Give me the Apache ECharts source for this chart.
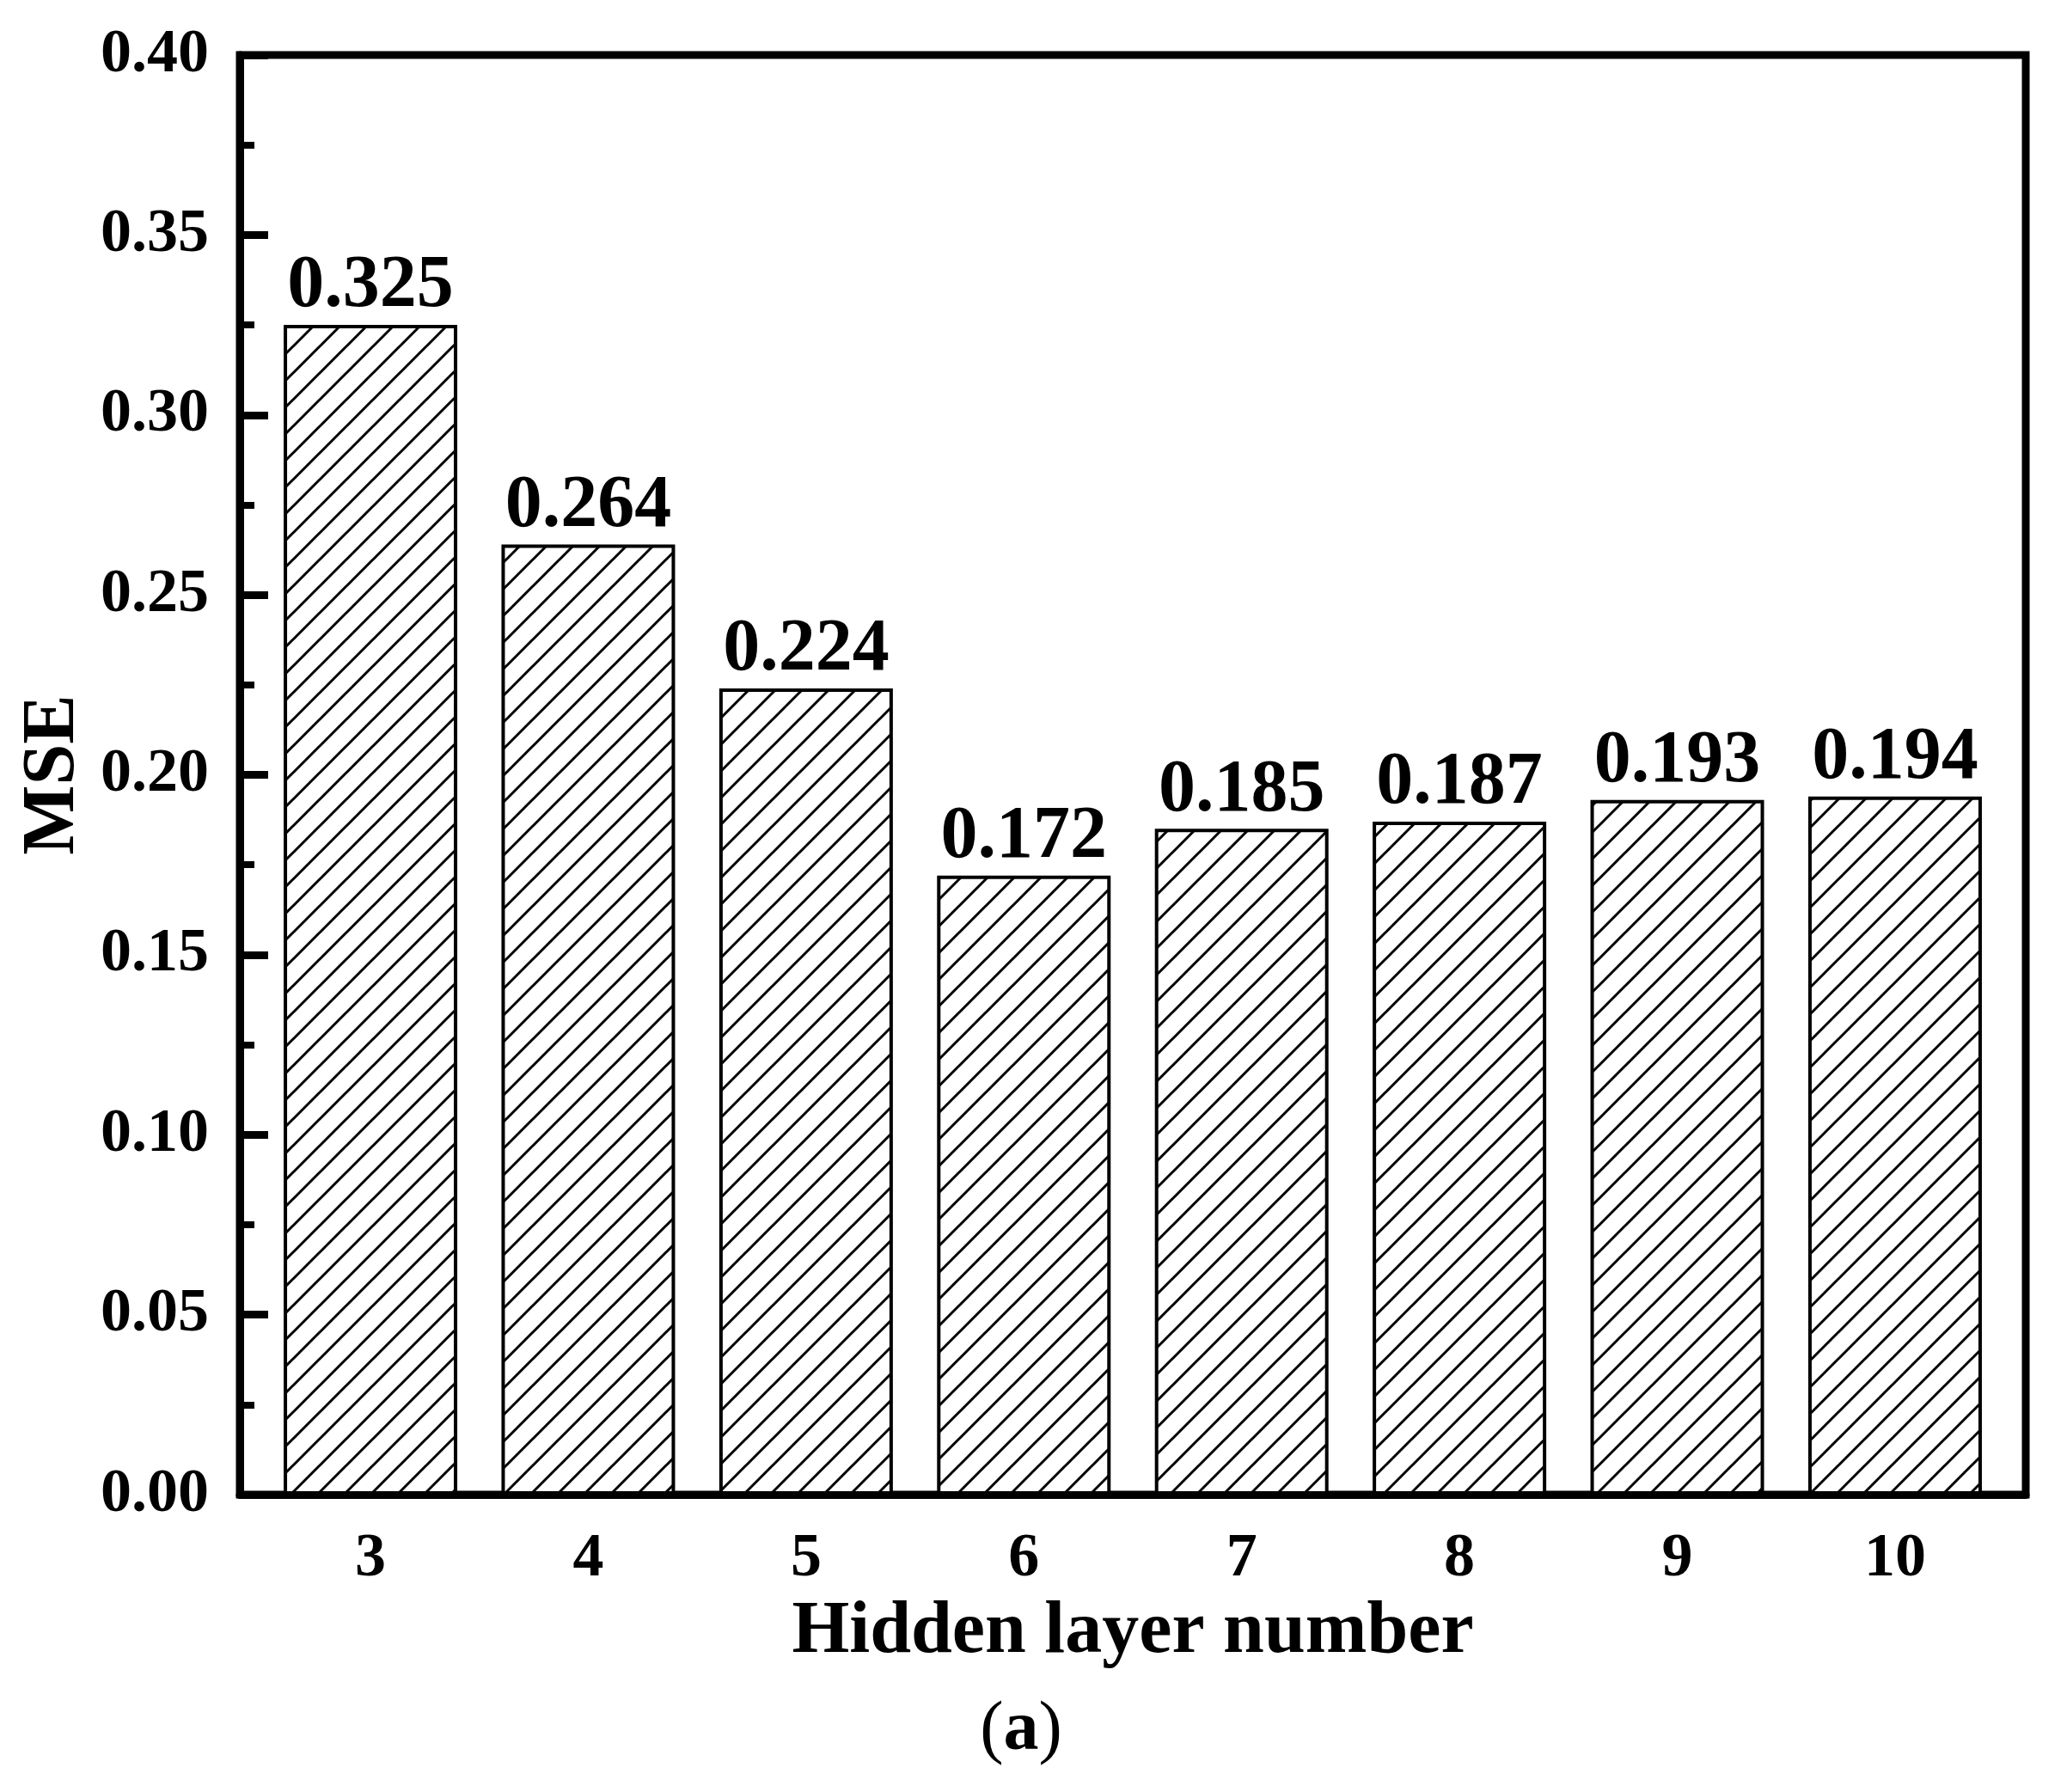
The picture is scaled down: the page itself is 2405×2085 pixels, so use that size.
<!DOCTYPE html>
<html>
<head>
<meta charset="utf-8">
<script src="https://cdn.jsdelivr.net/npm/echarts@6/dist/echarts.min.js"></script>
<style>
  html, body { margin: 0; padding: 0; background: #fff; }
  #main { width: 2405px; height: 2085px; }
</style>
</head>
<body>
<div id="main"></div>
<script>
// 数据
var hiddenLayers = [3, 4, 5, 6, 7, 8, 9, 10];
var mseValues = [0.325, 0.264, 0.224, 0.172, 0.185, 0.187, 0.193, 0.194];

var FONT = '"Times New Roman", "Liberation Serif", serif';

// 斜线填充
function hatch() {
    var S = 31;
    var c = document.createElement('canvas');
    c.width = S; c.height = S;
    var ctx = c.getContext('2d');
    ctx.fillStyle = '#fff';
    ctx.fillRect(0, 0, S, S);
    ctx.strokeStyle = '#000';
    ctx.lineWidth = 3;
    ctx.beginPath();
    for (var k = -1; k <= 1; k++) {
        ctx.moveTo(k * S - S, 2 * S);
        ctx.lineTo(k * S + 2 * S, -S);
    }
    ctx.stroke();
    return c;
}

var barData = hiddenLayers.map(function (h, i) { return [h, mseValues[i]]; });

var myChart = echarts.init(document.getElementById('main'));
myChart.setOption({
    backgroundColor: '#fff',
    animation: false,
    grid: {
        left: 279, right: 48, top: 64, bottom: 346,
        show: true, borderColor: '#000', borderWidth: 9
    },
    xAxis: {
        type: 'value',
        min: 2.4,
        max: 10.6,
        name: 'Hidden layer number',
        nameLocation: 'middle',
        nameGap: 118,
        nameTextStyle: { fontFamily: FONT, fontSize: 86, fontWeight: 'bold', color: '#000' },
        axisLine: { lineStyle: { color: '#000', width: 9 } },
        axisTick: {
            inside: true, length: 32,
            lineStyle: { color: '#000', width: 8 },
            customValues: hiddenLayers
        },
        axisLabel: {
            customValues: hiddenLayers,
            margin: 39,
            fontFamily: FONT, fontSize: 72, fontWeight: 'bold', color: '#000'
        },
        splitLine: { show: false }
    },
    yAxis: {
        type: 'value',
        min: 0,
        max: 0.4,
        interval: 0.05,
        name: 'MSE',
        nameLocation: 'middle',
        nameGap: 160,
        nameTextStyle: { fontFamily: FONT, fontSize: 86, fontWeight: 'bold', color: '#000' },
        axisLine: { show: true, lineStyle: { color: '#000', width: 9 } },
        axisTick: { inside: true, length: 33, lineStyle: { color: '#000', width: 9 } },
        minorTick: { show: true, splitNumber: 2, length: 17, lineStyle: { color: '#000', width: 8 } },
        axisLabel: {
            margin: 36,
            fontFamily: FONT, fontSize: 72, fontWeight: 'bold', color: '#000',
            formatter: function (v) { return v.toFixed(2); }
        },
        splitLine: { show: false }
    },
    series: [{
        type: 'bar',
        data: barData,
        barWidth: 202,
        itemStyle: {
            color: { image: hatch(), repeat: 'repeat' },
            borderColor: '#000',
            borderWidth: 4
        },
        label: {
            show: true,
            position: 'top',
            distance: 1,
            fontFamily: FONT, fontSize: 86, fontWeight: 'bold', color: '#000',
            formatter: function (p) { return p.value[1].toFixed(3); }
        }
    }],
    graphic: [{
        type: 'text',
        x: 1188,
        y: 2014,
        style: {
            text: '{p|(}{b|a}{p|)}',
            textAlign: 'center',
            textVerticalAlign: 'middle',
            rich: {
                p: { fontFamily: FONT, fontSize: 82, fontWeight: 'normal', fill: '#000' },
                b: { fontFamily: FONT, fontSize: 82, fontWeight: 'bold', fill: '#000' }
            }
        }
    }]
});
</script>
</body>
</html>
